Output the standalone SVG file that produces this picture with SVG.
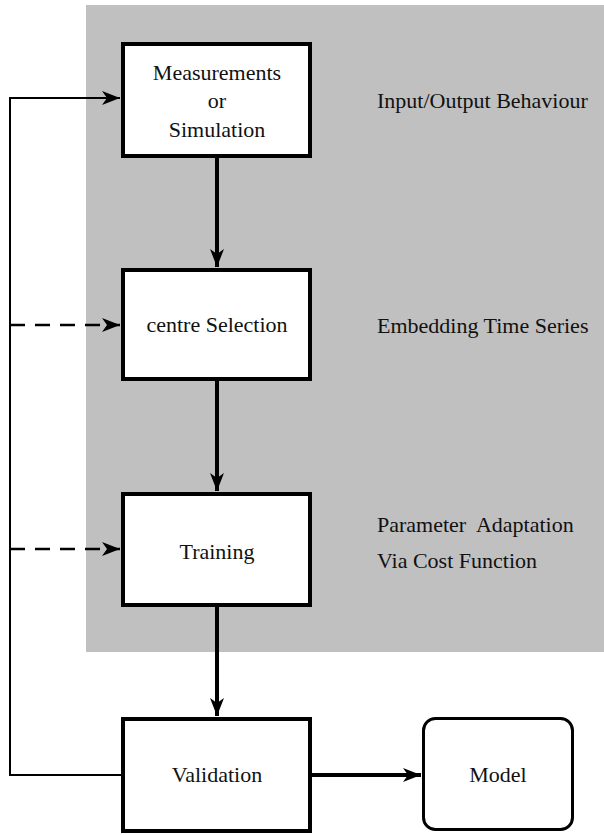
<svg xmlns="http://www.w3.org/2000/svg" width="604" height="835" viewBox="0 0 604 835">
<style>
.box{fill:#fff;stroke:#000;stroke-width:4}
text{font-family:'Liberation Serif','Times New Roman','DejaVu Serif',serif;font-size:22px;fill:#111}
.c{text-anchor:middle}
.thick{fill:none;stroke:#000;stroke-width:4}
.thin{fill:none;stroke:#000;stroke-width:2}
.dash{fill:none;stroke:#000;stroke-width:2.5;stroke-dasharray:15 10}
</style>
<defs>
<marker id="ah" markerUnits="userSpaceOnUse" viewBox="0 0 18 14" refX="18" refY="7" markerWidth="18" markerHeight="14" orient="auto">
<path d="M0,0 L18,7 L0,14 L5,7 Z" fill="#000"/>
</marker>
</defs>
<rect x="86" y="5" width="518" height="647" fill="#c0c0c0"/>
<g id="connectors">
<line class="thick" x1="217" y1="158" x2="217" y2="267" marker-end="url(#ah)"/>
<line class="thick" x1="217" y1="381" x2="217" y2="491" marker-end="url(#ah)"/>
<line class="thick" x1="217" y1="607" x2="217" y2="716" marker-end="url(#ah)"/>
<line class="thick" x1="312" y1="775" x2="421" y2="775" marker-end="url(#ah)"/>
<polyline class="thin" points="121,775 10,775 10,98 120,98" marker-end="url(#ah)"/>
<line class="dash" x1="10" y1="325" x2="120" y2="325" marker-end="url(#ah)"/>
<line class="dash" x1="10" y1="549" x2="120" y2="549" marker-end="url(#ah)"/>
</g>
<g id="measurements">
<rect class="box" x="123" y="44" width="187" height="112"/>
<text class="c" x="217" y="80" font-family="Liberation Serif, serif">Measurements</text>
<text class="c" x="217" y="108" font-family="Liberation Serif, serif">or</text>
<text class="c" x="217" y="137" font-family="Liberation Serif, serif">Simulation</text>
</g>
<g id="centre-selection">
<rect class="box" x="123" y="270" width="187" height="109"/>
<text class="c" x="217" y="332" font-family="Liberation Serif, serif">centre Selection</text>
</g>
<g id="training">
<rect class="box" x="123" y="494" width="187" height="111"/>
<text class="c" x="217" y="559" font-family="Liberation Serif, serif">Training</text>
</g>
<g id="validation">
<rect class="box" x="123" y="719" width="187" height="112"/>
<text class="c" x="217" y="782" font-family="Liberation Serif, serif">Validation</text>
</g>
<g id="model">
<rect x="423.5" y="718.5" width="149" height="111" rx="12" fill="#fff" stroke="#000" stroke-width="3"/>
<text class="c" x="498" y="782" font-family="Liberation Serif, serif">Model</text>
</g>
<g id="labels">
<text x="377" y="108" font-family="Liberation Serif, serif">Input/Output Behaviour</text>
<text x="377" y="333" font-family="Liberation Serif, serif">Embedding Time Series</text>
<text x="377" y="532" xml:space="preserve" font-family="Liberation Serif, serif">Parameter  Adaptation</text>
<text x="377" y="568" font-family="Liberation Serif, serif">Via Cost Function</text>
</g>
</svg>
